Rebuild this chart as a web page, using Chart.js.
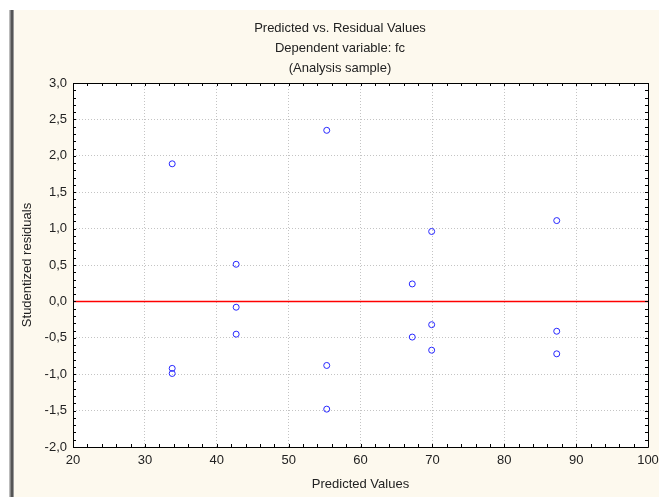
<!DOCTYPE html>
<html>
<head>
<meta charset="utf-8">
<title>Predicted vs. Residual Values</title>
<script src="https://cdn.jsdelivr.net/npm/chart.js@4/dist/chart.umd.min.js"></script>
<style>
    body { margin: 0; background: #ffffff; }
    canvas { display: block; }
</style>
</head>
<body>
<canvas id="residualChart" width="659" height="497"></canvas>
<script>
// --------------------------------- Chart Data ---------------------------------
const predictedValues = [
    33.8, 33.8, 33.8, 42.7, 42.7, 42.7, 55.3, 55.3, 55.3,
    67.2, 67.2, 69.9, 69.9, 69.9, 87.3, 87.3, 87.3,
];
const studentizedResiduals = [
    1.89, -0.92, -0.99, 0.51, -0.08, -0.45, 2.35, -0.88, -1.48,
    0.24, -0.49, 0.96, -0.32, -0.67, 1.11, -0.41, -0.72,
];
// Reference line at residual = 0
const zeroLineX = [20, 100];
const zeroLineY = [0, 0];

// Axis ticks
const xTickValues = [20, 30, 40, 50, 60, 70, 80, 90, 100];
const yTickValues = [-2, -1.5, -1, -0.5, 0, 0.5, 1, 1.5, 2, 2.5, 3];

const titleLines = [
    "Predicted vs. Residual Values",
    "Dependent variable: fc",
    "(Analysis sample)",
];
const xAxisTitle = "Predicted Values";
const yAxisTitle = "Studentized residuals";

// --------------------------------- Styling ---------------------------------
const FONT_FAMILY = "'Liberation Sans', Arial, sans-serif";
const TEXT_COLOR = "#222222";
const PANEL_COLOR = "rgb(253,249,238)";
const GRID_COLOR = "rgb(196,196,196)";

// Decimal comma labels, e.g. "-0,5"
const formatResidual = (value) => value.toFixed(1).replace(".", ",");

// Window frame, panel, plot border, minor ticks and the three-line heading
const statisticaFrame = {
    id: "statisticaFrame",
    beforeDraw(chart) {
        const ctx = chart.ctx;
        const { left, right, top, bottom } = chart.chartArea;
        ctx.save();
        ctx.fillStyle = "#ffffff";
        ctx.fillRect(0, 0, chart.width, chart.height);
        ctx.fillStyle = PANEL_COLOR;
        ctx.fillRect(14, 10, chart.width - 14, chart.height - 10);
        // Dark window edge on the left
        ctx.fillStyle = "#bbbbbb";
        ctx.fillRect(9, 10, 1, chart.height - 10);
        ctx.fillStyle = "#888888";
        ctx.fillRect(10, 10, 1, chart.height - 10);
        ctx.fillStyle = "#555555";
        ctx.fillRect(11, 10, 2, chart.height - 10);
        ctx.fillStyle = "#999999";
        ctx.fillRect(13, 10, 1, chart.height - 10);
        // Plot area
        ctx.fillStyle = "#ffffff";
        ctx.fillRect(left, top, right - left, bottom - top);
        ctx.restore();
    },
    afterDraw(chart) {
        const ctx = chart.ctx;
        const { left, right, top, bottom } = chart.chartArea;
        const xScale = chart.scales.x;
        const yScale = chart.scales.y;
        const tickLen = 3;
        ctx.save();
        ctx.strokeStyle = "#000000";
        ctx.lineWidth = 1;
        ctx.beginPath();
        ctx.rect(left + 0.5, top + 0.5, right - left, bottom - top);
        // Inward minor ticks on all four sides
        for (let v = xScale.min; v <= xScale.max; v += 2) {
            const px = Math.round(xScale.getPixelForValue(v)) + 0.5;
            ctx.moveTo(px, bottom);
            ctx.lineTo(px, bottom - tickLen);
            ctx.moveTo(px, top);
            ctx.lineTo(px, top + tickLen);
        }
        for (let i = 0; i <= 50; i++) {
            const py = Math.round(yScale.getPixelForValue(yScale.min + i * 0.1)) + 0.5;
            ctx.moveTo(left, py);
            ctx.lineTo(left + tickLen, py);
            ctx.moveTo(right, py);
            ctx.lineTo(right - tickLen, py);
        }
        ctx.stroke();

        // Heading
        ctx.fillStyle = TEXT_COLOR;
        ctx.font = "13px " + FONT_FAMILY;
        ctx.textAlign = "center";
        ctx.textBaseline = "alphabetic";
        titleLines.forEach((line, i) => {
            ctx.fillText(line, 340, 32 + i * 20);
        });
        ctx.restore();
    },
};

const ctx = document.getElementById("residualChart");
new Chart(ctx, {
    type: "scatter",
    data: {
        datasets: [
            {
                // Residual points
                data: predictedValues.map((x, i) => ({ x: x, y: studentizedResiduals[i] })),
                pointStyle: "circle",
                pointRadius: 3,
                pointBorderWidth: 1,
                pointBorderColor: "rgb(40,40,255)",
                pointBackgroundColor: "rgba(0,0,0,0)",
                showLine: false,
            },
            {
                // Zero line
                data: zeroLineX.map((x, i) => ({ x: x, y: zeroLineY[i] })),
                showLine: true,
                borderColor: "#ff0000",
                borderWidth: 1.5,
                pointRadius: 0,
                fill: false,
            },
        ],
    },
    options: {
        responsive: false,
        animation: false,
        events: [],
        devicePixelRatio: 1,
        layout: { padding: { top: 83, right: 11, left: 0, bottom: 0 } },
        plugins: {
            legend: { display: false },
            tooltip: { enabled: false },
            title: { display: false },
        },
        scales: {
            x: {
                type: "linear",
                min: 20,
                max: 100,
                afterBuildTicks: (scale) => {
                    scale.ticks = xTickValues.map((v) => ({ value: v }));
                },
                afterFit: (scale) => {
                    scale.height = 50;
                    scale.paddingLeft = 0;
                    scale.paddingRight = 0;
                },
                ticks: {
                    padding: 6,
                    color: TEXT_COLOR,
                    font: { family: FONT_FAMILY, size: 13 },
                    maxRotation: 0,
                    autoSkip: false,
                    callback: (value) => String(value),
                },
                grid: {
                    color: GRID_COLOR,
                    drawTicks: false,
                    borderDash: [1, 2],
                },
                border: { display: false, dash: [1, 2] },
                title: {
                    display: true,
                    text: xAxisTitle,
                    color: TEXT_COLOR,
                    font: { family: FONT_FAMILY, size: 13 },
                    padding: { top: 0, bottom: 5 },
                },
            },
            y: {
                type: "linear",
                min: -2,
                max: 3,
                afterBuildTicks: (scale) => {
                    scale.ticks = yTickValues.map((v) => ({ value: v }));
                },
                afterFit: (scale) => {
                    scale.width = 73;
                    scale.paddingTop = 0;
                    scale.paddingBottom = 0;
                },
                ticks: {
                    padding: 6,
                    color: TEXT_COLOR,
                    font: { family: FONT_FAMILY, size: 13 },
                    autoSkip: false,
                    callback: (value) => formatResidual(value),
                },
                grid: {
                    // The red zero line replaces the dotted grid line at 0
                    color: (context) =>
                        context.tick && context.tick.value === 0 ? "rgba(0,0,0,0)" : GRID_COLOR,
                    drawTicks: false,
                    borderDash: [1, 2],
                },
                border: { display: false, dash: [1, 2] },
                title: {
                    display: true,
                    text: yAxisTitle,
                    color: TEXT_COLOR,
                    font: { family: FONT_FAMILY, size: 13 },
                    padding: { top: 20, bottom: 0 },
                },
            },
        },
    },
    plugins: [statisticaFrame],
});
</script>
</body>
</html>
